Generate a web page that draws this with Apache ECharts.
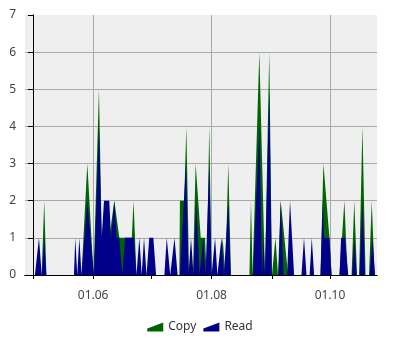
<!DOCTYPE html>
<html><head><meta charset="utf-8">
<script src="https://cdn.jsdelivr.net/npm/echarts@6/dist/echarts.min.js"></script>
<style>html,body{margin:0;padding:0;background:#fff}#c{width:400px;height:350px}</style>
</head><body><div id="c"></div>
<script>
// x = days since 01.05
const monthTickDays = [0, 31, 61, 92, 123, 153];
const monthTickLabels = ['01.05', '01.06', '01.07', '01.08', '01.09', '01.10'];
const labeledTickDays = [31, 92, 153];
const xMin = -4.1, xMax = 177.2;
const yTicks = [0, 1, 2, 3, 4, 5, 6, 7];

const copyPoints = [[4.5,0],[5.8,2],[6.9,0],[25.0,0],[28.0,3],[31.2,0],[34.0,5],[35.4,1],[36.6,1],[39.3,1],[40.2,1],[41.9,2],[44.5,1],[47.4,1],[50.9,1],[51.8,2],[53.3,0],[75.4,0],[75.7,2],[77.9,2],[79.0,4],[80.4,0],[82.4,0],[83.8,3],[86.4,1],[88.6,1],[89.5,0],[90.8,4],[92.0,0],[96.1,0],[97.7,1],[99.1,0],[99.3,0],[100.6,3],[102.0,0],[111.5,0],[112.3,2],[113.1,0],[113.3,0],[116.6,6],[119.5,0],[120.3,0],[121.7,6],[123.1,0],[123.6,0],[124.9,1],[126.2,0],[126.5,0],[127.6,2],[131.4,0],[148.1,0],[149.6,3],[152.7,1],[153.8,0],[157.9,0],[160.4,2],[162.0,0],[164.1,0],[165.5,2],[166.9,0],[168.0,0],[169.7,4],[171.3,0],[173.1,0],[174.5,2],[175.9,0]];

const readPoints = [[1.0,0],[3.1,1],[4.5,0],[5.8,1],[6.9,0],[21.1,0],[21.8,1],[22.8,0],[23.9,1],[25.0,0],[28.0,2],[31.4,0],[34.0,4],[35.4,1],[36.6,2],[39.3,2],[40.2,1],[41.9,2],[43.1,1],[44.5,1],[46.0,0],[47.4,1],[52.0,1],[53.3,0],[54.8,1],[56.0,0],[57.2,1],[58.5,0],[59.9,1],[62.0,1],[63.4,0],[67.7,0],[68.9,1],[70.7,0],[72.9,1],[74.5,0],[75.7,0],[78.8,3],[80.1,0],[81.4,1],[82.7,0],[84.0,2],[85.8,0],[86.5,0],[87.7,1],[88.9,0],[89.6,0],[90.8,3],[92.0,0],[92.6,0],[93.8,1],[95.0,0],[95.8,0],[97.1,1],[98.4,0],[99.4,0],[100.6,2],[101.8,0],[113.3,0],[116.6,4],[118.0,0],[118.7,1],[119.5,0],[121.7,5],[123.0,0],[126.5,0],[127.6,2],[129.1,0],[130.9,0],[132.4,2],[134.5,0],[138.3,0],[139.6,1],[140.9,0],[142.5,0],[143.6,1],[144.8,0],[148.1,0],[149.3,2],[149.9,1],[152.7,1],[153.8,0],[157.9,0],[158.7,1],[160.7,1],[162.4,0],[164.4,0],[165.5,1],[166.7,0],[168.2,0],[169.7,2],[171.0,0],[173.4,0],[174.9,1],[176.2,0]];

const seriesNames = ['Copy', 'Read'];
const colors = ['#006400', '#00008b'];

const chart = echarts.init(document.getElementById('c'), null, {renderer: 'canvas'});
const font = 'Noto Sans';
const icon = 'path://M0,9 L0,6 L16,0 L16,9 Z';
chart.setOption({
  animation: false,
  textStyle: {fontFamily: font},
  grid: {left: 25, right: 23, top: 15, bottom: 75, show: true, backgroundColor: '#efefef', borderWidth: 0},
  legend: {
    bottom: 12, left: 'center', itemWidth: 16, itemHeight: 9, itemGap: 7,
    textStyle: {fontFamily: font, fontSize: 12, color: '#333'},
    data: seriesNames.map((n, i) => ({name: n, icon: icon, itemStyle: {color: colors[i]}}))
  },
  xAxis: [{
    type: 'value', min: xMin, max: xMax,
    axisLine: {lineStyle: {color: '#000'}},
    axisTick: {show: true, length: 4, lineStyle: {color: '#000'}, customValues: monthTickDays},
    axisLabel: {customValues: labeledTickDays, margin: 15, fontFamily: font, fontSize: 12, color: '#444',
      formatter: v => monthTickLabels[monthTickDays.indexOf(Math.round(v))] || ''},
    splitLine: {show: false}
  }, {
    type: 'value', min: xMin, max: xMax, position: 'top',
    axisLine: {show: true, lineStyle: {color: '#000'}},
    axisTick: {show: false, customValues: labeledTickDays},
    axisLabel: {show: false, customValues: labeledTickDays},
    splitLine: {show: true, lineStyle: {color: '#a8a8a8', width: 1}}
  }],
  yAxis: [{
    type: 'value', min: 0, max: 7, interval: 1,
    axisLine: {show: true, lineStyle: {color: '#000'}},
    axisTick: {show: true, length: 5, lineStyle: {color: '#000'}},
    axisLabel: {margin: 9, fontFamily: font, fontSize: 12, color: '#444',
      formatter: v => String(yTicks[yTicks.indexOf(v)])},
    splitLine: {show: true, showMinLine: false, showMaxLine: false, lineStyle: {color: '#a8a8a8', width: 1}}
  }, {
    type: 'value', min: 0, max: 7, interval: 1, position: 'right',
    axisLine: {show: true, lineStyle: {color: '#000'}},
    axisTick: {show: false}, axisLabel: {show: false}, splitLine: {show: false}
  }],
  series: [
    {name: 'Copy', type: 'line', xAxisIndex: 0, yAxisIndex: 0, data: copyPoints, showSymbol: false, symbol: 'none',
     lineStyle: {width: 0}, areaStyle: {color: colors[0], opacity: 1}, itemStyle: {color: colors[0]}},
    {name: 'Read', type: 'line', xAxisIndex: 0, yAxisIndex: 0, data: readPoints, showSymbol: false, symbol: 'none',
     lineStyle: {width: 0}, areaStyle: {color: colors[1], opacity: 1}, itemStyle: {color: colors[1]}}
  ]
});
</script></body></html>
